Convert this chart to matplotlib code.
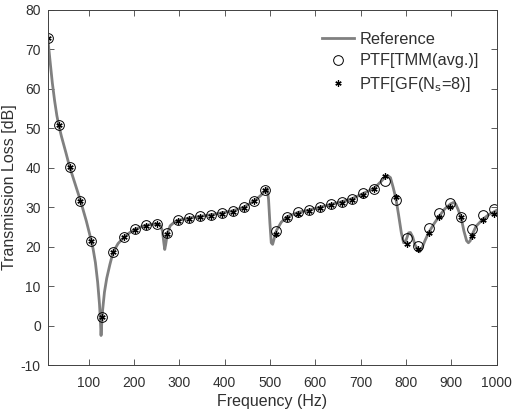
import matplotlib
matplotlib.use('Agg')
import matplotlib.pyplot as plt

plt.rcParams['font.family'] = ['Liberation Sans', 'DejaVu Sans']
plt.rcParams['axes.unicode_minus'] = False

# reference curve
f_ref = [10, 15, 20, 25, 30, 34, 40, 50, 58, 70, 82, 95, 106, 110, 115, 120, 124, 126,
         127.5, 129, 131, 135, 140, 147, 154, 165, 178, 190, 202, 215, 226, 240, 250,
         258, 263, 266, 268, 270, 274, 280, 290, 298, 322, 346, 370, 394, 418, 442,
         466, 480, 490, 494, 497, 500, 503, 506, 510, 514, 525, 538, 562, 586, 610,
         634, 658, 682, 706, 730, 745, 754, 760, 766, 772, 778, 784, 790, 795, 800,
         806, 810, 815, 820, 826, 830, 835, 842, 850, 862, 874, 886, 898, 905, 910,
         915, 922, 928, 934, 938, 942, 946, 955, 970, 985, 994, 1000]
tl_ref = [72.8, 67.0, 61.5, 57.0, 53.2, 50.9, 48.0, 43.8, 40.3, 36.0, 31.7, 26.5, 21.5,
          19.4, 16.0, 11.0, 5.5, 1.5, -2.5, 0.5, 4.0, 8.5, 12.0, 15.5, 18.6, 20.8, 22.4,
          23.5, 24.4, 25.0, 25.4, 25.7, 25.8, 25.5, 24.0, 21.0, 19.3, 20.5, 23.4, 25.3,
          26.3, 26.7, 27.3, 27.7, 28.1, 28.6, 29.1, 30.0, 31.6, 33.0, 34.4, 34.8, 32.0,
          26.0, 21.0, 20.6, 22.3, 24.0, 26.2, 27.6, 28.7, 29.3, 30.0, 30.7, 31.4, 32.2,
          33.5, 34.8, 36.5, 37.6, 38.0, 37.5, 35.0, 32.2, 28.0, 23.5, 21.0, 21.5, 23.5,
          23.6, 22.5, 20.5, 19.4, 18.7, 19.5, 21.5, 23.5, 25.8, 27.8, 29.6, 30.8, 31.2,
          30.8, 29.5, 27.3, 24.0, 21.5, 21.0, 21.5, 23.0, 25.2, 27.0, 28.3, 28.8, 29.2]

# sampled frequencies
f_pts = [10, 34, 58, 82, 106, 130, 154, 178, 202, 226, 250, 274, 298, 322, 346, 370,
         394, 418, 442, 466, 490, 514, 538, 562, 586, 610, 634, 658, 682, 706, 730,
         754, 778, 802, 826, 850, 874, 898, 922, 946, 970, 994]
tl_tmm = [72.8, 50.9, 40.3, 31.7, 21.5, 2.3, 18.6, 22.4, 24.4, 25.4, 25.8, 23.4, 26.7,
          27.3, 27.7, 28.1, 28.6, 29.1, 30.0, 31.7, 34.4, 24.0, 27.6, 28.7, 29.3, 30.0,
          30.8, 31.4, 32.2, 33.5, 34.7, 36.7, 31.8, 22.3, 20.3, 24.7, 28.6, 31.0, 27.4,
          24.5, 28.0, 29.5]
tl_gf = [72.8, 50.9, 40.3, 31.7, 21.5, 2.3, 18.6, 22.4, 24.3, 25.3, 25.7, 23.2, 26.5,
         27.1, 27.5, 27.9, 28.4, 28.9, 29.8, 31.5, 34.4, 23.1, 27.2, 28.4, 29.0, 29.7,
         30.5, 31.1, 31.9, 33.2, 34.5, 37.8, 32.5, 20.6, 19.4, 23.4, 27.6, 30.1, 27.4,
         22.7, 26.8, 28.3]

txt = '#303030'

fig = plt.figure(figsize=(5.14, 4.13), dpi=100)
ax = fig.add_axes([0.093, 0.116, 0.873, 0.860])

ax.plot(f_ref, tl_ref, color=(0.5, 0.5, 0.5), lw=2.0, label='Reference')
ax.plot(f_pts, tl_tmm, 'o', mfc='none', mec='black', mew=0.7, ms=7, label='PTF[TMM(avg.)]')
ax.plot(f_pts, tl_gf, ls='none', marker=(6, 2, 0), mec='black', mew=0.9, ms=4.5,
        label='PTF[GF(N$_\\mathrm{s}$=8)]')

ax.set_xlim(10, 1000)
ax.set_ylim(-10, 80)
ax.set_xticks(range(100, 1001, 100))
ax.set_yticks(range(-10, 81, 10))
ax.tick_params(direction='in', length=4, width=0.6, colors='#404040', labelcolor=txt,
               labelsize=10, top=True, right=True)
ax.tick_params(axis='x', pad=8)
ax.tick_params(axis='y', pad=5)
for s in ax.spines.values():
    s.set_linewidth(0.7)
    s.set_color('#404040')
ax.set_xlabel('Frequency (Hz)', fontsize=11.5, color=txt, labelpad=3)
ax.set_ylabel('Transmission Loss [dB]', fontsize=11.5, color=txt)
ax.yaxis.set_label_coords(-0.068, 0.5)

ax.legend(loc='upper left', bbox_to_anchor=(0.612, 0.938), frameon=False,
          fontsize=11.8, handlelength=1.9, handletextpad=0.35, borderaxespad=0,
          borderpad=0, labelspacing=0.4, labelcolor=txt)

plt.savefig('out.png', dpi=100)
